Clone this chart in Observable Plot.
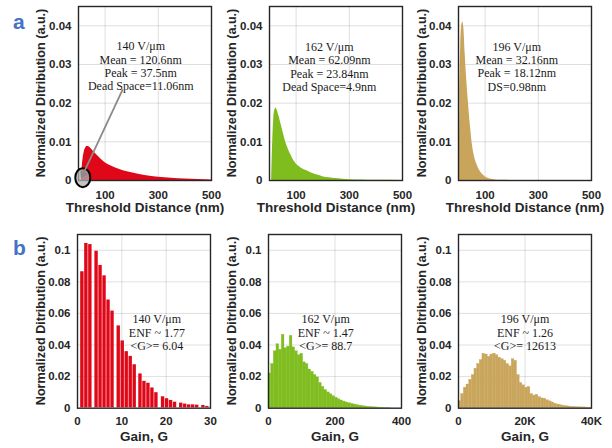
<!DOCTYPE html>
<html><head><meta charset="utf-8">
<script src="https://cdn.jsdelivr.net/npm/d3@7"></script>
<script src="https://cdn.jsdelivr.net/npm/@observablehq/plot@0.6"></script>
<style>
body{margin:0;background:#fff;}
#fig{position:relative;width:612px;height:448px;overflow:hidden;background:#fff;}
#fig svg.p{position:absolute;}
</style></head><body><div id="fig"></div>
<script>
// ---------- data ----------
const fields = ["140 V/μm", "162 V/μm", "196 V/μm"];
const yTicksTop = [0, 0.01, 0.02, 0.03, 0.04];
const xTicksTop = [100, 300, 500];
const yTicksBottom = [0, 0.02, 0.04, 0.06, 0.08, 0.1];

// threshold-distance distributions (nm, a.u.)
const a1X = [11, 14, 18, 22, 27, 32, 37, 45, 55, 70, 85, 100, 125, 150, 175, 200, 250, 300, 350, 400, 450, 500];
const a1Y = [0, 0.0035, 0.006, 0.0075, 0.0084, 0.0088, 0.0088, 0.0084, 0.0076, 0.0065, 0.0055, 0.0046, 0.0037, 0.003, 0.0024, 0.002, 0.0013, 0.00085, 0.00056, 0.00037, 0.00024, 0.00016];
const a2X = [8, 12, 16, 20, 24, 30, 35, 43, 50, 62, 70, 81, 90, 100, 120, 140, 160, 180, 200, 225, 250, 300, 350, 400, 500];
const a2Y = [0, 0.010, 0.016, 0.0182, 0.0187, 0.018, 0.0168, 0.0147, 0.0128, 0.0097, 0.0082, 0.0065, 0.0053, 0.0043, 0.0032, 0.0025, 0.0019, 0.0014, 0.001, 0.0007, 0.0005, 0.0002, 0.0001, 0.00004, 0];
const a3X = [3, 5, 8, 12, 16, 20, 25, 30, 37.5, 45, 50, 60, 70, 80, 90, 100, 120, 140, 160, 200];
const a3Y = [0, 0.02, 0.034, 0.04, 0.041, 0.0395, 0.033, 0.027, 0.02, 0.014, 0.0105, 0.0062, 0.004, 0.0025, 0.0016, 0.001, 0.0004, 0.00015, 0.00005, 0];

// gain histograms
const b1Gain = [1.1, 2.0, 2.9, 4.3, 5.2, 6.1, 7.0, 7.9, 9.3, 10.2, 11.1, 12.0, 12.9, 14.2, 15.1, 16.0, 16.9, 17.8, 19.3, 20.2, 21.1, 22.0, 23.4, 24.3, 25.2, 26.1, 27.0, 28.4, 29.3];
const b1Val = [0.0866, 0.1045, 0.1038, 0.0996, 0.0906, 0.084, 0.0687, 0.0617, 0.0523, 0.0428, 0.036, 0.033, 0.0277, 0.0219, 0.0172, 0.016, 0.013, 0.010, 0.0074, 0.0062, 0.0051, 0.004, 0.0034, 0.0028, 0.0023, 0.0023, 0.0021, 0.0019, 0.0013];
const b2Gain = [4, 12, 20, 28, 36, 44, 52, 60, 68, 76, 84, 92, 100, 108, 116, 124, 132, 140, 148, 156, 164, 172, 180, 188, 196, 204, 212, 220, 228, 236, 244, 252, 260, 268, 276, 284, 292, 300, 308, 316, 324, 332, 340, 348, 356, 364];
const b2Val = [0.022, 0.028, 0.036, 0.0405, 0.037, 0.0465, 0.038, 0.039, 0.0458, 0.0385, 0.036, 0.0335, 0.0345, 0.029, 0.028, 0.0245, 0.023, 0.021, 0.0195, 0.016, 0.0135, 0.0115, 0.0100, 0.0088, 0.0076, 0.0066, 0.0056, 0.0049, 0.0042, 0.0036, 0.0031, 0.0027, 0.0023, 0.0019, 0.0016, 0.0013, 0.0011, 0.0009, 0.0007, 0.0006, 0.0005, 0.0004, 0.0003, 0.0002, 0.00015, 0.0001];
const b3Gain = [400, 1200, 2000, 2800, 3600, 4400, 5200, 6000, 6800, 7600, 8400, 9200, 10000, 10800, 11600, 12400, 13200, 14000, 14800, 15600, 16400, 17200, 18000, 18800, 19600, 20400, 21200, 22000, 22800, 23600, 24400, 25200, 26000, 26800, 27600, 28400, 29200, 30000, 30800, 31600, 32400, 33200, 34000, 34800, 35600, 36400, 37200, 38000, 38800, 39600];
const b3Val = [0.0045, 0.009, 0.013, 0.015, 0.018, 0.021, 0.025, 0.028, 0.0305, 0.0345, 0.034, 0.0325, 0.034, 0.0345, 0.0335, 0.032, 0.031, 0.030, 0.028, 0.0265, 0.031, 0.030, 0.021, 0.016, 0.0145, 0.013, 0.0135, 0.009, 0.008, 0.0085, 0.007, 0.0062, 0.006, 0.005, 0.0043, 0.0036, 0.0028, 0.0023, 0.0019, 0.0016, 0.0013, 0.0011, 0.0009, 0.0008, 0.0006, 0.0006, 0.0005, 0.0005, 0.0004, 0.0003];

const notesTop = [
  fields[0] + "\nMean = 120.6nm\nPeak = 37.5nm\nDead Space=11.06nm",
  fields[1] + "\nMean = 62.09nm\nPeak = 23.84nm\nDead Space=4.9nm",
  fields[2] + "\nMean = 32.16nm\nPeak = 18.12nm\nDS=0.98nm"
];
const notesBottom = [
  fields[0] + "\nENF ~ 1.77\n<G>= 6.04",
  fields[1] + "\nENF ~ 1.47\n<G>= 88.7",
  fields[2] + "\nENF ~ 1.26\n<G>= 12613"
];

// ---------- styling ----------
const SANS = "'Liberation Sans', Arial, Helvetica, sans-serif";
const SERIF = "'Liberation Serif', 'Times New Roman', serif";
const RED = "#e00818", GREEN = "#7fbd1f", TAN = "#c9a55c";
const INK = "#262626";
const yLabel = "Normalized Ditribution (a.u.)";
const NS = "http://www.w3.org/2000/svg";

const zip = (xs, ys) => xs.map((x, i) => ({x, y: ys[i]}));

function panel(cfg) {
  const svg = Plot.plot({
    width: 203, height: cfg.height,
    marginLeft: 60, marginRight: 10, marginTop: cfg.marginTop, marginBottom: cfg.marginBottom,
    style: {background: "transparent", overflow: "visible", color: INK, fontFamily: SANS, fontWeight: "bold"},
    x: {domain: cfg.xDomain},
    y: {domain: cfg.yDomain},
    marks: [
      Plot.gridX(cfg.xGrid, {stroke: "#000", strokeOpacity: 0.13}),
      Plot.gridY(cfg.yGrid, {stroke: "#000", strokeOpacity: 0.13}),
      ...cfg.marks,
      Plot.frame({stroke: INK, strokeWidth: 1.4}),
      Plot.axisX(cfg.xTicks, {tickSize: 0, tickPadding: cfg.xPad, tickFormat: cfg.xFormat, fontSize: 11.5, fontWeight: "bold", label: null}),
      Plot.axisY(cfg.yTicks, {tickSize: 0, tickPadding: 7, tickFormat: d => String(d), fontSize: 11.5, fontWeight: "bold", label: null}),
      Plot.text([cfg.xLabel], {frameAnchor: "bottom", dy: cfg.xLabelDy, fontSize: 13.5, fontWeight: "bold", fill: INK, lineAnchor: "middle"}),
      Plot.text([cfg.note.text], {x: cfg.note.x, y: cfg.note.y, fontFamily: SERIF, fontWeight: "normal", fontSize: 12, lineHeight: 1.12, fill: "#1a1a1a", lineAnchor: "middle", textAnchor: "middle"}),
      ...(cfg.after || [])
    ]
  });
  svg.classList.add("p");
  svg.style.left = cfg.left + "px";
  svg.style.top = cfg.top + "px";
  document.getElementById("fig").appendChild(svg);
}

const topCommon = {height: 220, marginTop: 6, marginBottom: 40, top: 0, xDomain: [0, 500], yDomain: [0, 0.045],
  xGrid: [100, 300], yGrid: [0.01, 0.02, 0.03, 0.04], xTicks: xTicksTop, yTicks: yTicksTop, xPad: 10,
  xFormat: d => String(d), xLabel: "Threshold Distance (nm)", xLabelDy: 27};
const botCommon = {height: 217.7, marginTop: 4, marginBottom: 40, top: 230, yDomain: [0, 0.11],
  yGrid: [0.02, 0.04, 0.06, 0.08, 0.1], yTicks: yTicksBottom, xPad: 9, xLabel: "Gain, G", xLabelDy: 28.3};

// callout on panel a1 (data units)
const callout = {x: 18, y: 0.0006, x1: 165, y1: 0.0234, x2: 12, y2: 0.0009};
const ellipseMark = (index, {x, y}) => {
  const e = document.createElementNS(NS, "ellipse");
  e.setAttribute("cx", x(callout.x)); e.setAttribute("cy", y(callout.y));
  e.setAttribute("rx", 7.5); e.setAttribute("ry", 9.5);
  e.setAttribute("fill", "#b0b0b0"); e.setAttribute("fill-opacity", 0.75);
  e.setAttribute("stroke", "#000"); e.setAttribute("stroke-width", 2);
  return e;
};

panel({...topCommon, left: 17.7,
  marks: [Plot.areaY(zip(a1X, a1Y), {x: "x", y: "y", fill: RED, curve: "monotone-x"})],
  after: [ellipseMark,
    Plot.arrow([callout], {x1: "x1", y1: "y1", x2: "x2", y2: "y2", stroke: "#8a8a8a", strokeWidth: 1.8, headLength: 5})],
  note: {text: notesTop[0], x: 234, y: 0.0296}});
panel({...topCommon, left: 208.6,
  marks: [Plot.areaY(zip(a2X, a2Y), {x: "x", y: "y", fill: GREEN, curve: "monotone-x"})],
  note: {text: notesTop[1], x: 225, y: 0.0294}});
panel({...topCommon, left: 398.3,
  marks: [Plot.areaY(zip(a3X, a3Y), {x: "x", y: "y", fill: TAN, curve: "monotone-x"})],
  note: {text: notesTop[2], x: 219, y: 0.0295}});

panel({...botCommon, left: 17.3, xDomain: [0, 30], xGrid: [10, 20], xTicks: [0, 10, 20, 30], xFormat: d => String(d),
  marks: [Plot.rectY(zip(b1Gain, b1Val), {x1: d => d.x - 0.45, x2: d => d.x + 0.45, y: "y", fill: RED, inset: 0.3})],
  note: {text: notesBottom[0], x: 17.9, y: 0.0479}});
panel({...botCommon, left: 207.7, xDomain: [0, 400], xGrid: [200], xTicks: [0, 200, 400], xFormat: d => String(d),
  marks: [Plot.rectY(zip(b2Gain, b2Val), {x1: d => d.x - 4, x2: d => d.x + 4, y: "y", fill: GREEN, stroke: GREEN, strokeWidth: 0.3})],
  note: {text: notesBottom[1], x: 172, y: 0.0479}});
panel({...botCommon, left: 397.7, xDomain: [0, 40000], xGrid: [20000], xTicks: [0, 20000, 40000], xFormat: d => d === 0 ? "0" : d / 1000 + "K",
  marks: [Plot.rectY(zip(b3Gain, b3Val), {x1: d => d.x - 400, x2: d => d.x + 400, y: "y", fill: TAN, stroke: TAN, strokeWidth: 0.3})],
  note: {text: notesBottom[2], x: 20000, y: 0.0479}});

// overlay: panel letters and rotated y-axis titles
const lab = document.createElementNS(NS, "svg");
lab.setAttribute("width", 612); lab.setAttribute("height", 448);
lab.style.position = "absolute"; lab.style.left = "0"; lab.style.top = "0"; lab.style.pointerEvents = "none";
[["a", 28.5], ["b", 255]].forEach(([t, yy]) => {
  const e = document.createElementNS(NS, "text");
  e.setAttribute("x", 13); e.setAttribute("y", yy);
  e.setAttribute("font-family", SANS); e.setAttribute("font-weight", "bold");
  e.setAttribute("font-size", 21); e.setAttribute("fill", "#4472c4");
  e.textContent = t; lab.appendChild(e);
});
[[40.7, 93], [231.3, 93], [421.3, 93], [40.7, 320.9], [231.3, 320.9], [421.3, 320.9]].forEach(([cx, cy]) => {
  const e = document.createElementNS(NS, "text");
  e.setAttribute("transform", `translate(${cx},${cy}) rotate(-90)`);
  e.setAttribute("text-anchor", "middle"); e.setAttribute("dy", "0.36em");
  e.setAttribute("font-family", SANS); e.setAttribute("font-weight", "bold");
  e.setAttribute("font-size", 12.6); e.setAttribute("fill", INK);
  e.textContent = yLabel; lab.appendChild(e);
});
document.getElementById("fig").appendChild(lab);
</script>
</body></html>
